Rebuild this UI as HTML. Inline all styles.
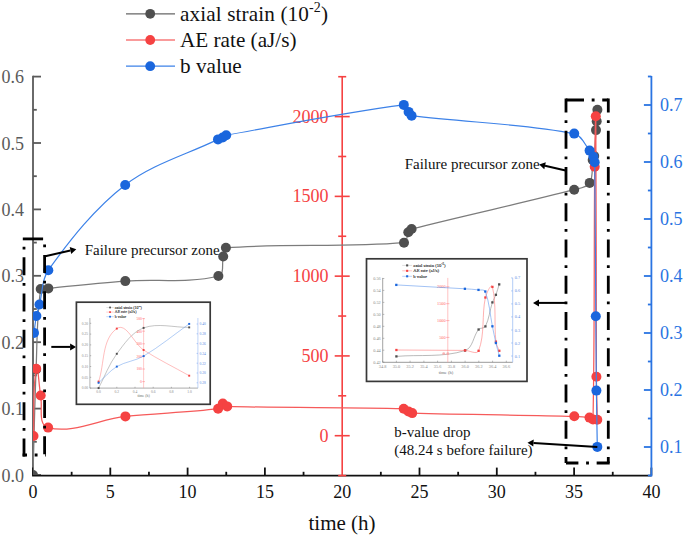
<!DOCTYPE html>
<html><head><meta charset="utf-8"><title>chart</title>
<style>
html,body{margin:0;padding:0;background:#fff;}
body{width:685px;height:538px;overflow:hidden;}
svg{display:block;}
text{font-family:"Liberation Serif", serif;}
</style></head><body>
<svg width="685" height="538" viewBox="0 0 685 538">
<defs><clipPath id="pa"><rect x="33" y="60" width="618.5" height="415"/></clipPath></defs>
<rect width="685" height="538" fill="#fff"/>

<g stroke="#5a5a5a" stroke-width="1.8" fill="none">
<line x1="33.0" y1="75.7" x2="33.0" y2="475.6"/>
<line x1="33.0" y1="475.00" x2="41.0" y2="475.00"/>
<line x1="33.0" y1="441.80" x2="36.8" y2="441.80"/>
<line x1="33.0" y1="408.60" x2="41.0" y2="408.60"/>
<line x1="33.0" y1="375.40" x2="36.8" y2="375.40"/>
<line x1="33.0" y1="342.20" x2="41.0" y2="342.20"/>
<line x1="33.0" y1="309.00" x2="36.8" y2="309.00"/>
<line x1="33.0" y1="275.80" x2="41.0" y2="275.80"/>
<line x1="33.0" y1="242.60" x2="36.8" y2="242.60"/>
<line x1="33.0" y1="209.40" x2="41.0" y2="209.40"/>
<line x1="33.0" y1="176.20" x2="36.8" y2="176.20"/>
<line x1="33.0" y1="143.00" x2="41.0" y2="143.00"/>
<line x1="33.0" y1="109.80" x2="36.8" y2="109.80"/>
<line x1="33.0" y1="76.60" x2="41.0" y2="76.60"/>
</g>
<g fill="#5a5a5a" font-size="18" text-anchor="end">
<text x="24" y="481.5">0.0</text>
<text x="24" y="415.1">0.1</text>
<text x="24" y="348.7">0.2</text>
<text x="24" y="282.3">0.3</text>
<text x="24" y="215.9">0.4</text>
<text x="24" y="149.5">0.5</text>
<text x="24" y="83.1">0.6</text>
</g>
<g stroke="#111" stroke-width="1.8" fill="none">
<line x1="32.1" y1="475.6" x2="651.4" y2="475.6"/>
<line x1="33.00" y1="475.6" x2="33.00" y2="467.6"/>
<line x1="71.65" y1="475.6" x2="71.65" y2="471.8"/>
<line x1="110.30" y1="475.6" x2="110.30" y2="467.6"/>
<line x1="148.95" y1="475.6" x2="148.95" y2="471.8"/>
<line x1="187.60" y1="475.6" x2="187.60" y2="467.6"/>
<line x1="226.25" y1="475.6" x2="226.25" y2="471.8"/>
<line x1="264.90" y1="475.6" x2="264.90" y2="467.6"/>
<line x1="303.55" y1="475.6" x2="303.55" y2="471.8"/>
<line x1="380.85" y1="475.6" x2="380.85" y2="471.8"/>
<line x1="419.50" y1="475.6" x2="419.50" y2="467.6"/>
<line x1="458.15" y1="475.6" x2="458.15" y2="471.8"/>
<line x1="496.80" y1="475.6" x2="496.80" y2="467.6"/>
<line x1="535.45" y1="475.6" x2="535.45" y2="471.8"/>
<line x1="574.10" y1="475.6" x2="574.10" y2="467.6"/>
<line x1="612.75" y1="475.6" x2="612.75" y2="471.8"/>
<line x1="651.40" y1="475.6" x2="651.40" y2="467.6"/>
</g>
<g fill="#111" font-size="18" text-anchor="middle">
<text x="33.00" y="497.8">0</text>
<text x="110.30" y="497.8">5</text>
<text x="187.60" y="497.8">10</text>
<text x="264.90" y="497.8">15</text>
<text x="342.20" y="497.8">20</text>
<text x="419.50" y="497.8">25</text>
<text x="496.80" y="497.8">30</text>
<text x="574.10" y="497.8">35</text>
<text x="651.40" y="497.8">40</text>
</g>
<text x="342" y="530.4" font-size="21" text-anchor="middle" fill="#111">time (h)</text>
<g stroke="#f54242" stroke-width="1.6" fill="none">
<line x1="342.2" y1="76.7" x2="342.2" y2="475.6"/>
<line x1="338.20" y1="475.59" x2="346.20" y2="475.59"/>
<line x1="334.70" y1="435.70" x2="349.70" y2="435.70"/>
<line x1="338.20" y1="395.81" x2="346.20" y2="395.81"/>
<line x1="334.70" y1="355.92" x2="349.70" y2="355.92"/>
<line x1="338.20" y1="316.04" x2="346.20" y2="316.04"/>
<line x1="334.70" y1="276.15" x2="349.70" y2="276.15"/>
<line x1="338.20" y1="236.26" x2="346.20" y2="236.26"/>
<line x1="334.70" y1="196.38" x2="349.70" y2="196.38"/>
<line x1="338.20" y1="156.49" x2="346.20" y2="156.49"/>
<line x1="334.70" y1="116.60" x2="349.70" y2="116.60"/>
<line x1="338.20" y1="76.71" x2="346.20" y2="76.71"/>
</g>
<g fill="#f54242" font-size="18" text-anchor="end">
<text x="328.4" y="441.7">0</text>
<text x="328.4" y="361.9">500</text>
<text x="328.4" y="282.1">1000</text>
<text x="328.4" y="202.4">1500</text>
<text x="328.4" y="122.6">2000</text>
</g>
<g stroke="#2a74e2" stroke-width="1.8" fill="none">
<line x1="651.4" y1="76.1" x2="651.4" y2="476.5"/>
<line x1="647.90" y1="475.50" x2="651.40" y2="475.50"/>
<line x1="643.90" y1="447.00" x2="651.40" y2="447.00"/>
<line x1="647.90" y1="418.50" x2="651.40" y2="418.50"/>
<line x1="643.90" y1="390.00" x2="651.40" y2="390.00"/>
<line x1="647.90" y1="361.50" x2="651.40" y2="361.50"/>
<line x1="643.90" y1="333.00" x2="651.40" y2="333.00"/>
<line x1="647.90" y1="304.50" x2="651.40" y2="304.50"/>
<line x1="643.90" y1="276.00" x2="651.40" y2="276.00"/>
<line x1="647.90" y1="247.50" x2="651.40" y2="247.50"/>
<line x1="643.90" y1="219.00" x2="651.40" y2="219.00"/>
<line x1="647.90" y1="190.50" x2="651.40" y2="190.50"/>
<line x1="643.90" y1="162.00" x2="651.40" y2="162.00"/>
<line x1="647.90" y1="133.50" x2="651.40" y2="133.50"/>
<line x1="643.90" y1="105.00" x2="651.40" y2="105.00"/>
<line x1="647.90" y1="76.50" x2="651.40" y2="76.50"/>
</g>
<g fill="#2a74e2" font-size="18" text-anchor="start">
<text x="660" y="453.0">0.1</text>
<text x="660" y="396.0">0.2</text>
<text x="660" y="339.0">0.3</text>
<text x="660" y="282.0">0.4</text>
<text x="660" y="225.0">0.5</text>
<text x="660" y="168.0">0.6</text>
<text x="660" y="111.0">0.7</text>
</g>
<g clip-path="url(#pa)">
<path d="M33.00,475.00 C34.03,439.80 34.64,404.59 36.10,369.40 C37.21,342.58 36.70,315.54 40.70,289.00 C41.08,286.49 45.77,288.64 48.30,288.40 C73.97,286.00 99.59,282.97 125.30,281.10 C156.30,278.84 188.26,283.57 218.40,276.00 C224.89,274.37 221.48,262.97 223.20,256.50 C223.98,253.57 222.87,248.03 225.90,247.80 C285.12,243.28 344.82,247.73 404.00,242.70 C407.74,242.38 406.48,235.58 408.30,232.30 C409.05,230.94 410.09,229.39 411.60,229.00 C465.61,215.13 520.22,203.67 574.20,189.70 C579.66,188.29 586.72,187.69 589.70,182.90 C593.77,176.37 591.43,167.59 592.70,160.00 C592.93,158.60 594.04,157.42 594.20,156.00 C595.15,147.40 595.38,138.73 596.00,130.10 C596.21,127.13 596.50,124.17 596.70,121.20 C596.96,117.37 597.17,113.53 597.40,109.70" fill="none" stroke="#7c7c7c" stroke-width="1.25"/>
<g fill="#4f4f4f">
<circle cx="33.0" cy="475.0" r="5"/>
<circle cx="36.1" cy="369.4" r="5"/>
<circle cx="40.7" cy="289.0" r="5"/>
<circle cx="48.3" cy="288.4" r="5"/>
<circle cx="125.3" cy="281.1" r="5"/>
<circle cx="218.4" cy="276.0" r="5"/>
<circle cx="223.2" cy="256.5" r="5"/>
<circle cx="225.9" cy="247.8" r="5"/>
<circle cx="404.0" cy="242.7" r="5"/>
<circle cx="408.3" cy="232.3" r="5"/>
<circle cx="411.6" cy="229.0" r="5"/>
<circle cx="574.2" cy="189.7" r="5"/>
<circle cx="589.7" cy="182.9" r="5"/>
<circle cx="592.7" cy="160.0" r="5"/>
<circle cx="594.2" cy="156.0" r="5"/>
<circle cx="596.0" cy="130.1" r="5"/>
<circle cx="596.7" cy="121.2" r="5"/>
<circle cx="597.4" cy="109.7" r="5"/>
</g>
<path d="M33.50,436.00 C34.40,413.57 32.27,390.80 36.20,368.70 C37.79,359.78 38.91,386.62 40.70,395.50 C42.87,406.26 37.44,424.97 48.10,427.60 C73.38,433.84 99.52,419.28 125.40,416.40 C156.22,412.97 187.36,412.77 218.10,408.70 C220.42,408.39 220.53,404.07 222.80,403.50 C224.50,403.07 225.44,406.35 227.20,406.40 C286.01,408.09 344.88,407.08 403.70,408.70 C405.51,408.75 406.80,410.57 408.40,411.40 C409.63,412.04 410.81,413.06 412.20,413.10 C466.22,414.70 520.27,414.93 574.30,416.30 C579.38,416.43 584.49,416.74 589.50,417.60 C590.81,417.82 592.97,420.83 593.00,419.50 C594.75,335.28 593.92,251.03 594.70,166.80 C594.86,149.96 595.66,99.46 595.80,116.30 C596.50,203.13 595.97,289.97 596.40,376.80 C596.47,391.14 597.00,405.47 597.30,419.80" fill="none" stroke="#f65a5a" stroke-width="1.25"/>
<g fill="#f54242">
<circle cx="33.5" cy="436.0" r="5"/>
<circle cx="36.2" cy="368.7" r="5"/>
<circle cx="40.7" cy="395.5" r="5"/>
<circle cx="48.1" cy="427.6" r="5"/>
<circle cx="125.4" cy="416.4" r="5"/>
<circle cx="218.1" cy="408.7" r="5"/>
<circle cx="222.8" cy="403.5" r="5"/>
<circle cx="227.2" cy="406.4" r="5"/>
<circle cx="403.7" cy="408.7" r="5"/>
<circle cx="408.4" cy="411.4" r="5"/>
<circle cx="412.2" cy="413.1" r="5"/>
<circle cx="574.3" cy="416.3" r="5"/>
<circle cx="589.5" cy="417.6" r="5"/>
<circle cx="593.0" cy="419.5" r="5"/>
<circle cx="594.7" cy="166.8" r="5"/>
<circle cx="595.8" cy="116.3" r="5"/>
<circle cx="596.4" cy="376.8" r="5"/>
<circle cx="597.3" cy="419.8" r="5"/>
</g>
<path d="M34.00,332.90 C34.80,327.27 35.32,321.59 36.40,316.00 C37.15,312.10 38.50,308.34 39.50,304.50 C42.47,293.08 41.42,279.79 48.30,270.20 C70.60,239.11 94.90,208.36 125.20,185.00 C152.50,163.96 187.02,154.50 218.00,139.40 C219.52,138.66 221.20,138.27 222.70,137.50 C223.94,136.86 224.83,135.45 226.20,135.20 C285.31,124.56 344.23,112.51 403.80,104.90 C406.61,104.54 406.94,109.61 408.60,111.90 C409.54,113.21 410.00,115.49 411.60,115.70 C465.67,122.78 520.69,123.11 574.20,133.60 C581.70,135.07 584.71,144.72 589.60,150.60 C591.13,152.44 592.44,154.50 593.40,156.70 C594.17,158.46 594.67,160.38 594.70,162.30 C595.47,213.60 595.42,264.90 595.80,316.20 C595.98,341.00 596.12,365.80 596.40,390.60 C596.62,409.37 597.00,428.13 597.30,446.90" fill="none" stroke="#3d82e8" stroke-width="1.20"/>
<g fill="#1a66dd">
<circle cx="34.0" cy="332.9" r="5"/>
<circle cx="36.4" cy="316.0" r="5"/>
<circle cx="39.5" cy="304.5" r="5"/>
<circle cx="48.3" cy="270.2" r="5"/>
<circle cx="125.2" cy="185.0" r="5"/>
<circle cx="218.0" cy="139.4" r="5"/>
<circle cx="222.7" cy="137.5" r="5"/>
<circle cx="226.2" cy="135.2" r="5"/>
<circle cx="403.8" cy="104.9" r="5"/>
<circle cx="408.6" cy="111.9" r="5"/>
<circle cx="411.6" cy="115.7" r="5"/>
<circle cx="574.2" cy="133.6" r="5"/>
<circle cx="589.6" cy="150.6" r="5"/>
<circle cx="593.4" cy="156.7" r="5"/>
<circle cx="594.7" cy="162.3" r="5"/>
<circle cx="595.8" cy="316.2" r="5"/>
<circle cx="596.4" cy="390.6" r="5"/>
<circle cx="597.3" cy="446.9" r="5"/>
</g>
</g>
<line x1="126" y1="13.8" x2="175" y2="13.8" stroke="#666666" stroke-width="1.3"/>
<circle cx="150.2" cy="13.8" r="4.9" fill="#4f4f4f"/>
<text x="180" y="20.8" font-size="21.2" fill="#111" letter-spacing="0.12">axial strain (10<tspan font-size="14" dy="-9">-2</tspan><tspan dy="9">)</tspan></text>
<line x1="126" y1="40.0" x2="175" y2="40.0" stroke="#f77a7a" stroke-width="1.3"/>
<circle cx="150.2" cy="40.0" r="4.9" fill="#f54242"/>
<text x="180" y="47.0" font-size="21.2" fill="#111">AE rate (aJ/s)</text>
<line x1="126" y1="66.2" x2="175" y2="66.2" stroke="#3d82e8" stroke-width="1.3"/>
<circle cx="150.2" cy="66.2" r="4.9" fill="#1a66dd"/>
<text x="180" y="73.2" font-size="21.2" fill="#111">b value</text>
<g stroke="#000" stroke-width="2.8" fill="none">
<line x1="566" y1="100" x2="608.3" y2="100" stroke-dasharray="18 7.7 2.85 7.7"/>
<line x1="566" y1="98.6" x2="566" y2="463" stroke-dasharray="18 7.7 2.85 7.7" stroke-dashoffset="4.1"/>
<line x1="608.3" y1="98.6" x2="608.3" y2="463" stroke-dasharray="18 7.7 2.85 7.7" stroke-dashoffset="4.1"/>
<line x1="566" y1="463" x2="609.7" y2="463" stroke-dasharray="18 7.7 2.85 7.7" stroke-dashoffset="5.6"/>
<line x1="22.8" y1="238.9" x2="43.1" y2="238.9"/>
<line x1="24" y1="238.9" x2="24" y2="456.4" stroke-dasharray="18 7.7 2.85 7.7" stroke-dashoffset="17.85"/>
<line x1="44.6" y1="238.9" x2="44.6" y2="455" stroke-dasharray="18 7.7 2.85 7.7" stroke-dashoffset="20.15"/>
<line x1="22.6" y1="455" x2="46" y2="455" stroke-dasharray="18 7.7 2.85 7.7" stroke-dashoffset="13.6"/>
</g>
<line x1="45.3" y1="256.2" x2="70.4" y2="250.5" stroke="#000" stroke-width="2.0"/><polygon points="76.3,249.2 71.2,253.9 69.7,247.1" fill="#000"/>
<line x1="51.3" y1="346.9" x2="70.1" y2="346.9" stroke="#000" stroke-width="2.0"/><polygon points="76.1,346.9 70.1,350.4 70.1,343.4" fill="#000"/>
<line x1="566.0" y1="302.9" x2="539.0" y2="302.9" stroke="#000" stroke-width="2.0"/><polygon points="533.0,302.9 539.0,299.4 539.0,306.4" fill="#000"/>
<line x1="565.6" y1="170.5" x2="545.0" y2="165.8" stroke="#000" stroke-width="2.0"/><polygon points="539.2,164.4 545.8,162.3 544.3,169.2" fill="#000"/>
<line x1="597.3" y1="446.9" x2="533.5" y2="443.1" stroke="#000" stroke-width="2.0"/><polygon points="527.5,442.7 533.7,439.6 533.3,446.6" fill="#000"/>
<g font-size="15" fill="#111">
<text x="84.7" y="254.5">Failure precursor zone</text>
<text x="404.7" y="169">Failure precursor zone</text>
<text x="394.3" y="436.6">b-value drop</text>
<text x="394.3" y="455.4">(48.24 s before failure)</text>
</g>
<rect x="76.4" y="302.2" width="133.8" height="102.1" fill="#fff" stroke="#383838" stroke-width="1.7"/><g stroke-width="0.50" fill="none"><line x1="89.9" y1="318.0" x2="89.9" y2="388.1" stroke="#666"/><line x1="89.9" y1="388.1" x2="197.9" y2="388.1" stroke="#555"/><line x1="143.6" y1="318.0" x2="143.6" y2="388.1" stroke="#f99"/><line x1="197.9" y1="318.0" x2="197.9" y2="388.1" stroke="#80aaf0"/></g><g font-size="3.61" fill="#8a8a8a" text-anchor="middle"><text x="98.6" y="392.9">0.0</text><line x1="98.6" y1="388.1" x2="98.6" y2="386.8" stroke="#8a8a8a" stroke-width="0.6"/><text x="116.8" y="392.9">0.2</text><line x1="116.8" y1="388.1" x2="116.8" y2="386.8" stroke="#8a8a8a" stroke-width="0.6"/><text x="135.0" y="392.9">0.4</text><line x1="135.0" y1="388.1" x2="135.0" y2="386.8" stroke="#8a8a8a" stroke-width="0.6"/><text x="153.2" y="392.9">0.6</text><line x1="153.2" y1="388.1" x2="153.2" y2="386.8" stroke="#8a8a8a" stroke-width="0.6"/><text x="171.4" y="392.9">0.8</text><line x1="171.4" y1="388.1" x2="171.4" y2="386.8" stroke="#8a8a8a" stroke-width="0.6"/><text x="189.6" y="392.9">1.0</text><line x1="189.6" y1="388.1" x2="189.6" y2="386.8" stroke="#8a8a8a" stroke-width="0.6"/></g><g font-size="3.61" fill="#8a8a8a" text-anchor="end"><text x="88.2" y="389.4">0.00</text><line x1="89.9" y1="388.1" x2="91.2" y2="388.1" stroke="#8a8a8a" stroke-width="0.6"/><text x="88.2" y="378.6">0.05</text><line x1="89.9" y1="377.3" x2="91.2" y2="377.3" stroke="#8a8a8a" stroke-width="0.6"/><text x="88.2" y="367.8">0.10</text><line x1="89.9" y1="366.5" x2="91.2" y2="366.5" stroke="#8a8a8a" stroke-width="0.6"/><text x="88.2" y="357.0">0.15</text><line x1="89.9" y1="355.7" x2="91.2" y2="355.7" stroke="#8a8a8a" stroke-width="0.6"/><text x="88.2" y="346.2">0.20</text><line x1="89.9" y1="344.9" x2="91.2" y2="344.9" stroke="#8a8a8a" stroke-width="0.6"/><text x="88.2" y="335.4">0.25</text><line x1="89.9" y1="334.1" x2="91.2" y2="334.1" stroke="#8a8a8a" stroke-width="0.6"/><text x="88.2" y="324.6">0.30</text><line x1="89.9" y1="323.3" x2="91.2" y2="323.3" stroke="#8a8a8a" stroke-width="0.6"/></g><g font-size="3.61" fill="#f66" text-anchor="end"><text x="141.8" y="382.9">0</text><line x1="142.3" y1="381.6" x2="144.9" y2="381.6" stroke="#f88" stroke-width="0.6"/><text x="141.8" y="370.3">100</text><line x1="142.3" y1="369.0" x2="144.9" y2="369.0" stroke="#f88" stroke-width="0.6"/><text x="141.8" y="357.7">200</text><line x1="142.3" y1="356.4" x2="144.9" y2="356.4" stroke="#f88" stroke-width="0.6"/><text x="141.8" y="345.1">300</text><line x1="142.3" y1="343.8" x2="144.9" y2="343.8" stroke="#f88" stroke-width="0.6"/><text x="141.8" y="332.5">400</text><line x1="142.3" y1="331.2" x2="144.9" y2="331.2" stroke="#f88" stroke-width="0.6"/><text x="141.8" y="319.9">500</text><line x1="142.3" y1="318.6" x2="144.9" y2="318.6" stroke="#f88" stroke-width="0.6"/></g><g font-size="3.61" fill="#5a8ee6" text-anchor="start"><text x="199.6" y="384.1">0.28</text><line x1="196.6" y1="382.8" x2="197.9" y2="382.8" stroke="#80aaf0" stroke-width="0.6"/><text x="199.6" y="374.3">0.30</text><line x1="196.6" y1="373.0" x2="197.9" y2="373.0" stroke="#80aaf0" stroke-width="0.6"/><text x="199.6" y="364.5">0.32</text><line x1="196.6" y1="363.2" x2="197.9" y2="363.2" stroke="#80aaf0" stroke-width="0.6"/><text x="199.6" y="354.7">0.34</text><line x1="196.6" y1="353.4" x2="197.9" y2="353.4" stroke="#80aaf0" stroke-width="0.6"/><text x="199.6" y="344.9">0.36</text><line x1="196.6" y1="343.6" x2="197.9" y2="343.6" stroke="#80aaf0" stroke-width="0.6"/><text x="199.6" y="335.1">0.38</text><line x1="196.6" y1="333.8" x2="197.9" y2="333.8" stroke="#80aaf0" stroke-width="0.6"/><text x="199.6" y="325.3">0.40</text><line x1="196.6" y1="324.0" x2="197.9" y2="324.0" stroke="#80aaf0" stroke-width="0.6"/></g><path d="M98.60,388.10 C104.67,376.67 109.05,364.17 116.80,353.80 C124.24,343.85 131.93,332.16 143.60,327.90 C157.88,322.69 174.00,327.57 189.20,327.40" fill="none" stroke="#808080" stroke-width="0.46"/><rect x="97.63" y="387.13" width="1.93" height="1.93" fill="#4f4f4f"/><rect x="115.83" y="352.83" width="1.93" height="1.93" fill="#4f4f4f"/><rect x="142.63" y="326.93" width="1.93" height="1.93" fill="#4f4f4f"/><rect x="188.23" y="326.43" width="1.93" height="1.93" fill="#4f4f4f"/><path d="M98.60,381.60 C104.67,363.93 101.51,339.33 116.80,328.60 C126.16,322.03 134.02,343.77 143.60,350.00 C158.23,359.51 174.00,367.13 189.20,375.70" fill="none" stroke="#ff7070" stroke-width="0.46"/><rect x="97.63" y="380.63" width="1.93" height="1.93" fill="#f54242"/><rect x="115.83" y="327.63" width="1.93" height="1.93" fill="#f54242"/><rect x="142.63" y="349.03" width="1.93" height="1.93" fill="#f54242"/><rect x="188.23" y="374.73" width="1.93" height="1.93" fill="#f54242"/><path d="M98.60,382.80 C104.67,377.40 109.82,370.74 116.80,366.60 C125.05,361.70 135.34,360.97 143.60,356.10 C159.63,346.65 174.00,334.63 189.20,323.90" fill="none" stroke="#5590ea" stroke-width="0.46"/><rect x="97.63" y="381.83" width="1.93" height="1.93" fill="#1a66dd"/><rect x="115.83" y="365.63" width="1.93" height="1.93" fill="#1a66dd"/><rect x="142.63" y="355.13" width="1.93" height="1.93" fill="#1a66dd"/><rect x="188.23" y="322.93" width="1.93" height="1.93" fill="#1a66dd"/><line x1="106.3" y1="307.5" x2="113.8" y2="307.5" stroke="#c8c8c8" stroke-width="0.50"/><rect x="109.17" y="306.62" width="1.76" height="1.76" fill="#4f4f4f"/><text x="114.8" y="308.8" font-size="3.95" fill="#2a2a2a" stroke="#2a2a2a" stroke-width="0.10">axial strain (10<tspan font-size="2.52" dy="-1.51">-2</tspan><tspan dy="1.51">)</tspan></text><line x1="106.3" y1="312.1" x2="113.8" y2="312.1" stroke="#ff9a9a" stroke-width="0.50"/><rect x="109.17" y="311.22" width="1.76" height="1.76" fill="#f54242"/><text x="114.8" y="313.4" font-size="3.95" fill="#2a2a2a" stroke="#2a2a2a" stroke-width="0.10">AE rate (aJ/s)</text><line x1="106.3" y1="316.7" x2="113.8" y2="316.7" stroke="#8ab2f2" stroke-width="0.50"/><rect x="109.17" y="315.82" width="1.76" height="1.76" fill="#1a66dd"/><text x="114.8" y="318.0" font-size="3.95" fill="#2a2a2a" stroke="#2a2a2a" stroke-width="0.10">b value</text><text x="143.6" y="397.2" font-size="3.86" fill="#6a6a6a" text-anchor="middle">time (h)</text>
<rect x="366.5" y="258.8" width="160.5" height="122.6" fill="#fff" stroke="#383838" stroke-width="1.7"/><g stroke-width="0.60" fill="none"><line x1="382.7" y1="277.9" x2="382.7" y2="362.3" stroke="#666"/><line x1="382.7" y1="362.3" x2="512.7" y2="362.3" stroke="#555"/><line x1="447.8" y1="277.9" x2="447.8" y2="362.3" stroke="#f99"/><line x1="512.7" y1="277.9" x2="512.7" y2="362.3" stroke="#80aaf0"/></g><g font-size="4.30" fill="#8a8a8a" text-anchor="middle"><text x="382.6" y="368.0">34.8</text><line x1="382.6" y1="362.3" x2="382.6" y2="360.7" stroke="#8a8a8a" stroke-width="0.6"/><text x="396.4" y="368.0">35.0</text><line x1="396.4" y1="362.3" x2="396.4" y2="360.7" stroke="#8a8a8a" stroke-width="0.6"/><text x="410.1" y="368.0">35.2</text><line x1="410.1" y1="362.3" x2="410.1" y2="360.7" stroke="#8a8a8a" stroke-width="0.6"/><text x="423.9" y="368.0">35.4</text><line x1="423.9" y1="362.3" x2="423.9" y2="360.7" stroke="#8a8a8a" stroke-width="0.6"/><text x="437.6" y="368.0">35.6</text><line x1="437.6" y1="362.3" x2="437.6" y2="360.7" stroke="#8a8a8a" stroke-width="0.6"/><text x="451.4" y="368.0">35.8</text><line x1="451.4" y1="362.3" x2="451.4" y2="360.7" stroke="#8a8a8a" stroke-width="0.6"/><text x="465.1" y="368.0">36.0</text><line x1="465.1" y1="362.3" x2="465.1" y2="360.7" stroke="#8a8a8a" stroke-width="0.6"/><text x="478.8" y="368.0">36.2</text><line x1="478.8" y1="362.3" x2="478.8" y2="360.7" stroke="#8a8a8a" stroke-width="0.6"/><text x="492.6" y="368.0">36.4</text><line x1="492.6" y1="362.3" x2="492.6" y2="360.7" stroke="#8a8a8a" stroke-width="0.6"/><text x="506.3" y="368.0">36.6</text><line x1="506.3" y1="362.3" x2="506.3" y2="360.7" stroke="#8a8a8a" stroke-width="0.6"/></g><g font-size="4.30" fill="#8a8a8a" text-anchor="end"><text x="380.7" y="363.7">0.42</text><line x1="382.7" y1="362.2" x2="384.3" y2="362.2" stroke="#8a8a8a" stroke-width="0.6"/><text x="380.7" y="351.7">0.44</text><line x1="382.7" y1="350.2" x2="384.3" y2="350.2" stroke="#8a8a8a" stroke-width="0.6"/><text x="380.7" y="339.8">0.46</text><line x1="382.7" y1="338.3" x2="384.3" y2="338.3" stroke="#8a8a8a" stroke-width="0.6"/><text x="380.7" y="327.8">0.48</text><line x1="382.7" y1="326.3" x2="384.3" y2="326.3" stroke="#8a8a8a" stroke-width="0.6"/><text x="380.7" y="315.9">0.50</text><line x1="382.7" y1="314.4" x2="384.3" y2="314.4" stroke="#8a8a8a" stroke-width="0.6"/><text x="380.7" y="303.9">0.52</text><line x1="382.7" y1="302.4" x2="384.3" y2="302.4" stroke="#8a8a8a" stroke-width="0.6"/><text x="380.7" y="291.9">0.54</text><line x1="382.7" y1="290.4" x2="384.3" y2="290.4" stroke="#8a8a8a" stroke-width="0.6"/><text x="380.7" y="280.0">0.56</text><line x1="382.7" y1="278.5" x2="384.3" y2="278.5" stroke="#8a8a8a" stroke-width="0.6"/></g><g font-size="4.30" fill="#f66" text-anchor="end"><text x="445.6" y="338.9">500</text><line x1="446.2" y1="337.4" x2="449.4" y2="337.4" stroke="#f88" stroke-width="0.6"/><text x="445.6" y="322.1">1000</text><line x1="446.2" y1="320.6" x2="449.4" y2="320.6" stroke="#f88" stroke-width="0.6"/><text x="445.6" y="305.2">1500</text><line x1="446.2" y1="303.7" x2="449.4" y2="303.7" stroke="#f88" stroke-width="0.6"/><text x="445.6" y="288.3">2000</text><line x1="446.2" y1="286.8" x2="449.4" y2="286.8" stroke="#f88" stroke-width="0.6"/></g><g font-size="4.30" fill="#5a8ee6" text-anchor="start"><text x="514.7" y="357.5">0.1</text><line x1="511.1" y1="356.0" x2="512.7" y2="356.0" stroke="#80aaf0" stroke-width="0.6"/><text x="514.7" y="344.5">0.2</text><line x1="511.1" y1="343.0" x2="512.7" y2="343.0" stroke="#80aaf0" stroke-width="0.6"/><text x="514.7" y="331.5">0.3</text><line x1="511.1" y1="330.0" x2="512.7" y2="330.0" stroke="#80aaf0" stroke-width="0.6"/><text x="514.7" y="318.4">0.4</text><line x1="511.1" y1="316.9" x2="512.7" y2="316.9" stroke="#80aaf0" stroke-width="0.6"/><text x="514.7" y="305.4">0.5</text><line x1="511.1" y1="303.9" x2="512.7" y2="303.9" stroke="#80aaf0" stroke-width="0.6"/><text x="514.7" y="292.4">0.6</text><line x1="511.1" y1="290.9" x2="512.7" y2="290.9" stroke="#80aaf0" stroke-width="0.6"/><text x="514.7" y="279.4">0.7</text><line x1="511.1" y1="277.9" x2="512.7" y2="277.9" stroke="#80aaf0" stroke-width="0.6"/></g><path d="M396.40,356.40 C419.30,354.43 443.26,357.65 465.10,350.50 C473.01,347.91 473.24,335.86 478.60,329.50 C480.20,327.59 484.27,328.62 485.40,326.40 C489.18,318.97 489.77,310.31 492.40,302.40 C493.28,299.75 494.91,297.41 495.90,294.80 C497.19,291.40 498.10,287.87 499.20,284.40" fill="none" stroke="#808080" stroke-width="0.55"/><rect x="395.25" y="355.25" width="2.30" height="2.30" fill="#4f4f4f"/><rect x="463.95" y="349.35" width="2.30" height="2.30" fill="#4f4f4f"/><rect x="477.45" y="328.35" width="2.30" height="2.30" fill="#4f4f4f"/><rect x="484.25" y="325.25" width="2.30" height="2.30" fill="#4f4f4f"/><rect x="491.25" y="301.25" width="2.30" height="2.30" fill="#4f4f4f"/><rect x="494.75" y="293.65" width="2.30" height="2.30" fill="#4f4f4f"/><rect x="498.05" y="283.25" width="2.30" height="2.30" fill="#4f4f4f"/><path d="M396.40,350.00 C419.27,350.13 442.13,350.18 465.00,350.40 C469.54,350.44 476.97,355.03 478.60,350.80 C485.04,334.09 481.62,315.01 485.40,297.50 C486.29,293.36 491.42,282.78 492.40,286.90 C496.63,304.67 493.94,323.43 495.90,341.60 C496.25,344.85 498.17,347.73 499.30,350.80" fill="none" stroke="#ff7070" stroke-width="0.55"/><rect x="395.25" y="348.85" width="2.30" height="2.30" fill="#f54242"/><rect x="463.85" y="349.25" width="2.30" height="2.30" fill="#f54242"/><rect x="477.45" y="349.65" width="2.30" height="2.30" fill="#f54242"/><rect x="484.25" y="296.35" width="2.30" height="2.30" fill="#f54242"/><rect x="491.25" y="285.75" width="2.30" height="2.30" fill="#f54242"/><rect x="494.75" y="340.45" width="2.30" height="2.30" fill="#f54242"/><rect x="498.15" y="349.65" width="2.30" height="2.30" fill="#f54242"/><path d="M396.30,284.90 C419.17,286.20 442.04,287.41 464.90,288.80 C469.44,289.08 473.99,289.30 478.50,289.90 C480.81,290.21 484.47,289.32 485.30,291.50 C489.52,302.56 490.01,314.70 492.40,326.30 C493.55,331.87 494.60,337.46 495.90,343.00 C496.90,347.27 498.17,351.47 499.30,355.70" fill="none" stroke="#5590ea" stroke-width="0.55"/><rect x="395.15" y="283.75" width="2.30" height="2.30" fill="#1a66dd"/><rect x="463.75" y="287.65" width="2.30" height="2.30" fill="#1a66dd"/><rect x="477.35" y="288.75" width="2.30" height="2.30" fill="#1a66dd"/><rect x="484.15" y="290.35" width="2.30" height="2.30" fill="#1a66dd"/><rect x="491.25" y="325.15" width="2.30" height="2.30" fill="#1a66dd"/><rect x="494.75" y="341.85" width="2.30" height="2.30" fill="#1a66dd"/><rect x="498.15" y="354.55" width="2.30" height="2.30" fill="#1a66dd"/><line x1="402.2" y1="265.4" x2="412.1" y2="265.4" stroke="#c8c8c8" stroke-width="0.60"/><rect x="406.10" y="264.35" width="2.10" height="2.10" fill="#4f4f4f"/><text x="413.3" y="267.0" font-size="4.70" fill="#2a2a2a" stroke="#2a2a2a" stroke-width="0.12">axial strain (10<tspan font-size="3.00" dy="-1.80">-2</tspan><tspan dy="1.80">)</tspan></text><line x1="402.2" y1="270.8" x2="412.1" y2="270.8" stroke="#ff9a9a" stroke-width="0.60"/><rect x="406.10" y="269.80" width="2.10" height="2.10" fill="#f54242"/><text x="413.3" y="272.4" font-size="4.70" fill="#2a2a2a" stroke="#2a2a2a" stroke-width="0.12">AE rate (aJ/s)</text><line x1="402.2" y1="276.3" x2="412.1" y2="276.3" stroke="#8ab2f2" stroke-width="0.60"/><rect x="406.10" y="275.25" width="2.10" height="2.10" fill="#1a66dd"/><text x="413.3" y="277.9" font-size="4.70" fill="#2a2a2a" stroke="#2a2a2a" stroke-width="0.12">b value</text><text x="446.0" y="373.5" font-size="4.60" fill="#6a6a6a" text-anchor="middle">time (h)</text>
<circle cx="443.7" cy="353.7" r="1.4" fill="#f7a0a0" opacity="0.8"/><circle cx="447.8" cy="353.7" r="1.4" fill="#f7a0a0" opacity="0.8"/>
</svg></body></html>
